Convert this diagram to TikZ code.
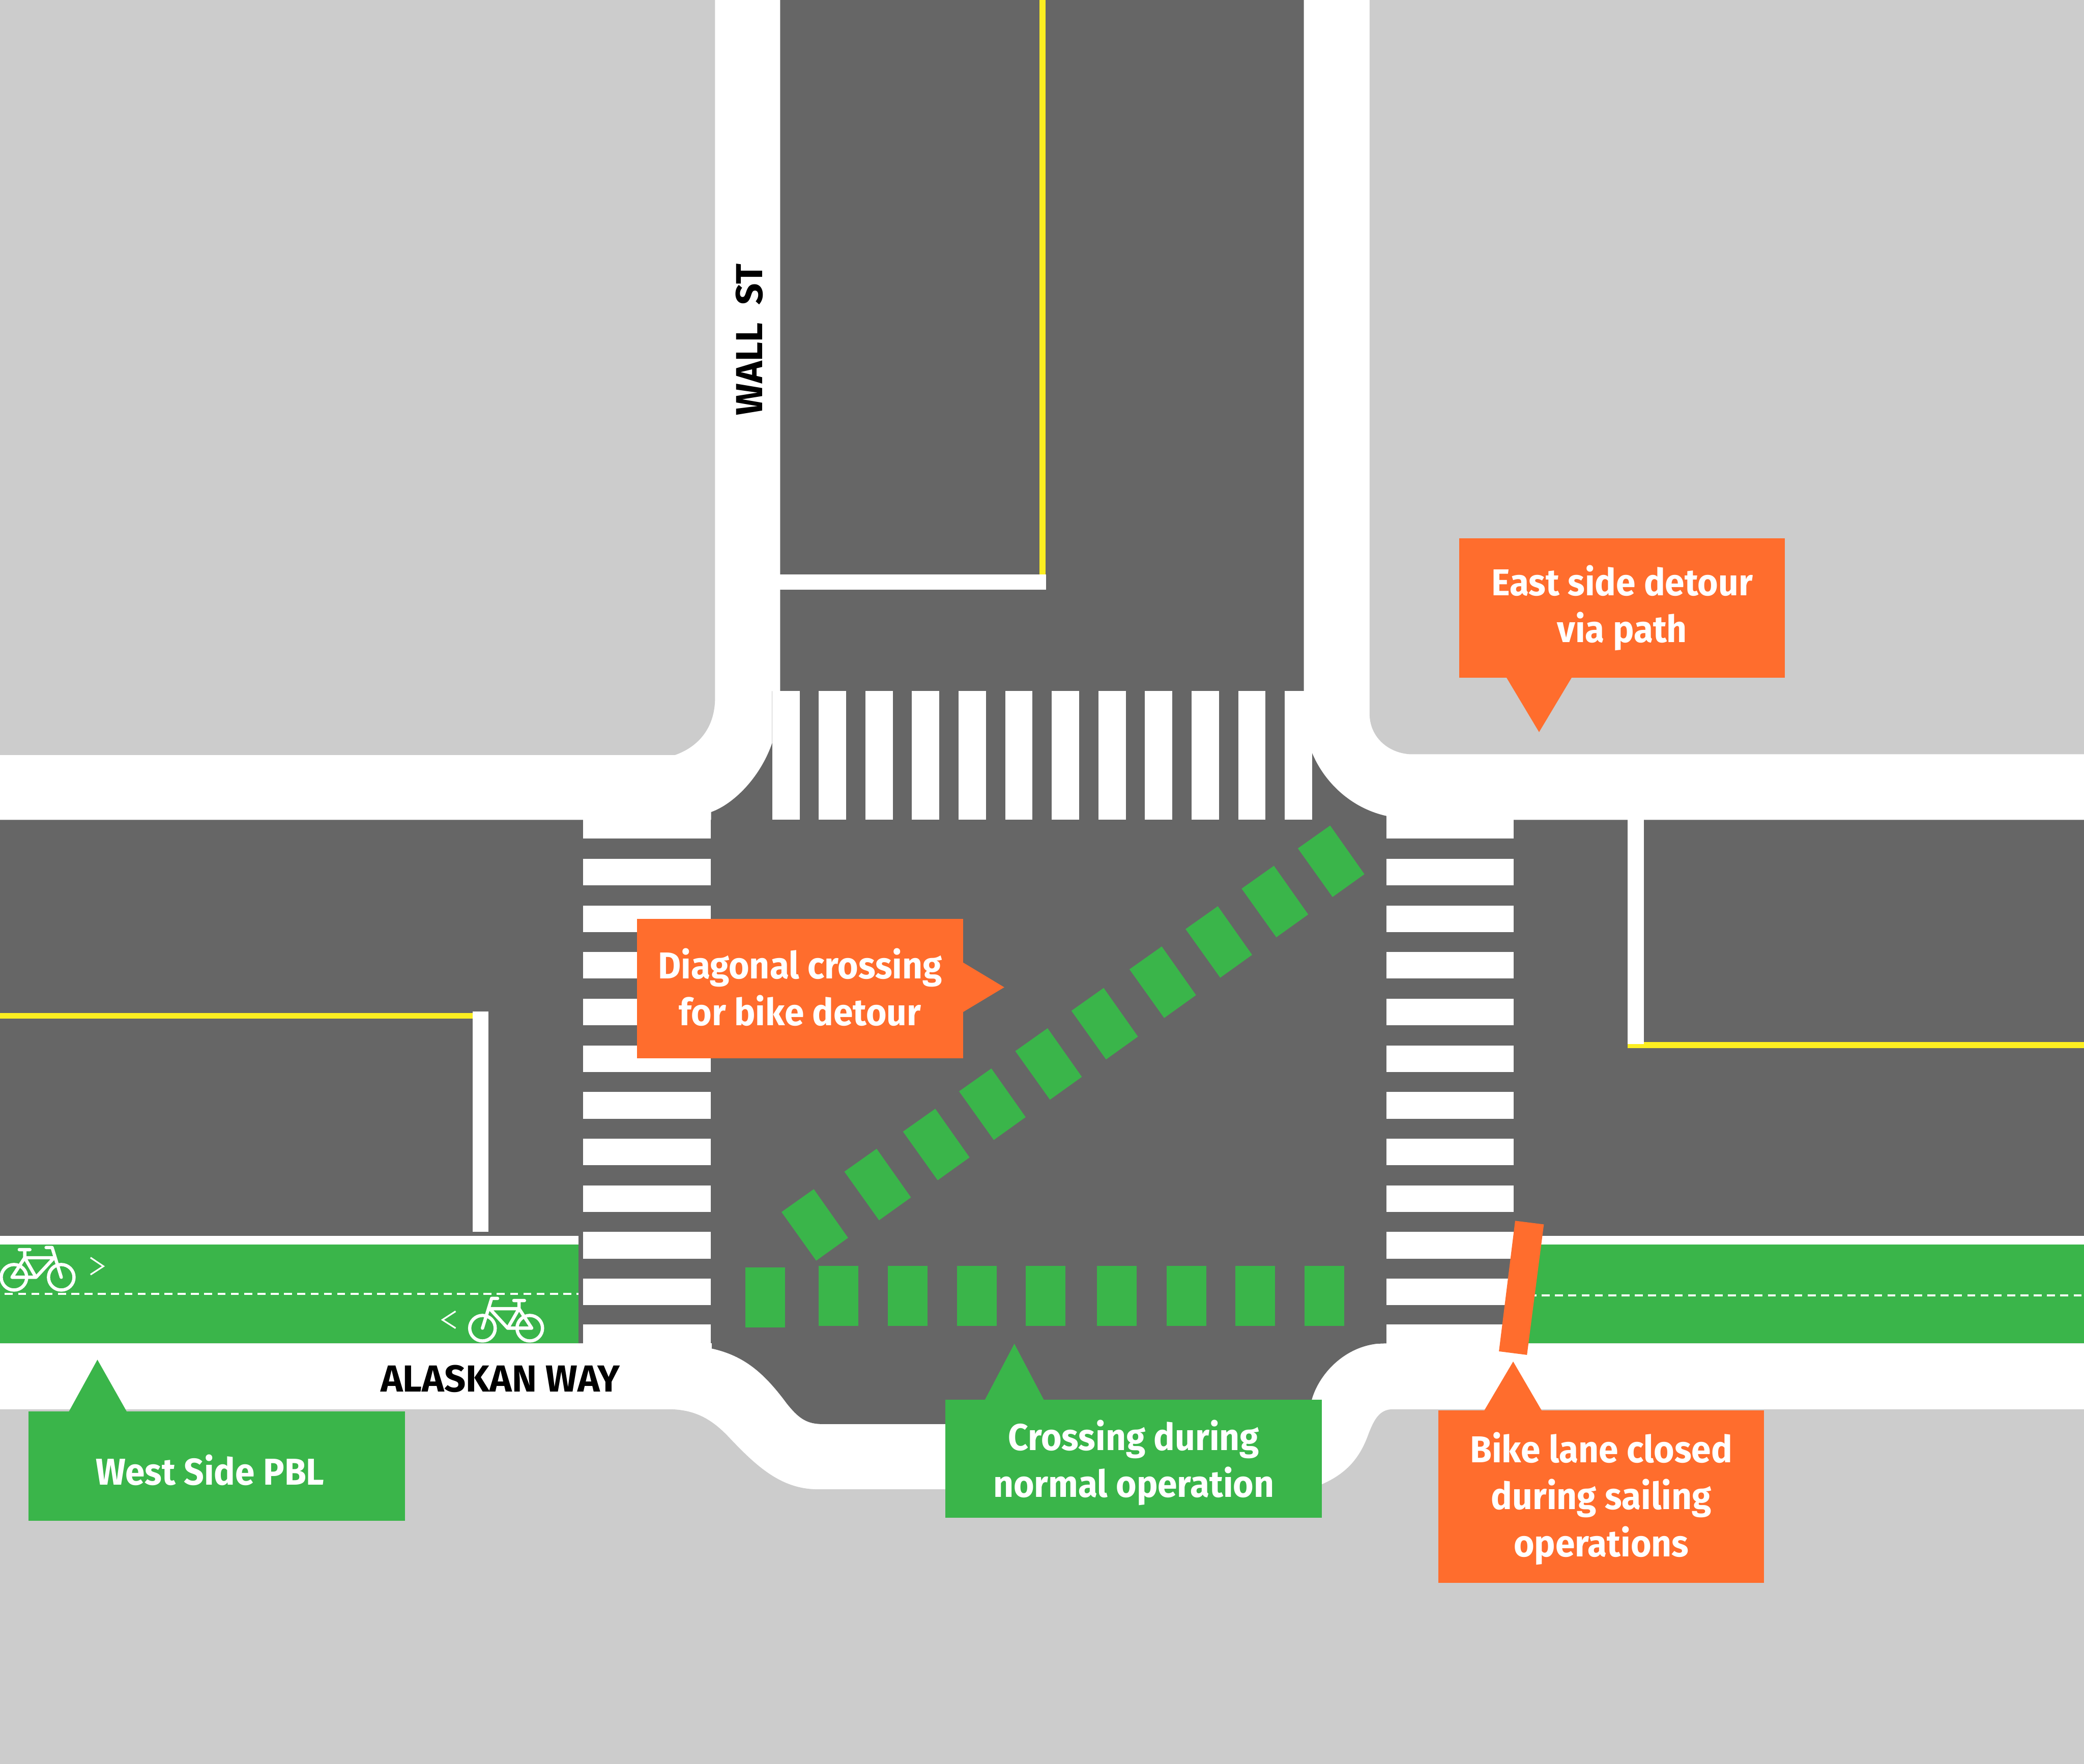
\documentclass[tikz,border=0pt]{standalone}
\usepackage{xcolor}
\usepackage{fontspec}
\setmainfont{Fira Sans}
\newfontfamily\calloutfont[FakeStretch = 0.945]{Fira Sans}
\newcommand{\lowered}[2]{\raisebox{-#1}[\height][\depth]{#2}}
\usepackage{tikz}
\usetikzlibrary{positioning}
\definecolor{sidewalk}{HTML}{CCCCCC}
\definecolor{asphalt}{HTML}{666666}
\definecolor{lanegreen}{HTML}{3AB54A}
\definecolor{detourorange}{HTML}{FF6D2D}
\definecolor{centerline}{HTML}{FCEE21}
\tikzset{
callout/.style = { rectangle, fill = #1, text = white, font = \fontsize{8pt}{10.06pt}\calloutfont\bfseries, align = center, inner sep = 0pt },
street name/.style = { black, font = \fontsize{8.05pt}{10pt}\selectfont\bfseries, inner sep = 0pt },
stop bar/.style = { fill = white },
lane dash/.style = { draw = white, line width = 0.35pt, dash pattern = on 0.06cm off 0.04cm },
}
\tikzset{
pics/bike/.style = {
        code = {
        \draw[white, line width = 0.7pt, line cap = round, line join = round]
            (0, 0) circle [radius = 9.6]
            (35.6, 0) circle [radius = 9.6]
            (-1.5, 0) -- (16.6, 0) -- (30.2, -14.7) -- (8.1, -14.7) -- cycle
            (8.1, -14.7) -- (16.6, 0)
            (8.1, -14.7) -- (8.1, -20.5)
            (4, -20.8) -- (12, -20.8)
            (35.6, 0) -- (28.7, -22.4) -- (24.2, -22.4);
        }
    }
}
\begin{document}
\begin{tikzpicture}[x = 0.01cm, y = -0.01cm]
    \useasboundingbox (0, 0) rectangle (1568, 1327.2);
    % ground
    \fill[white] (0, 0) rectangle (1568, 1327.2);
    \fill[sidewalk] (0, 0) -- (538, 0) -- (538, 525) .. controls (538, 548) and (525, 562) .. (508, 568) -- (0, 568) -- cycle;
    \fill[sidewalk] (1030.5, 0) -- (1030.5, 538) .. controls (1031, 555) and (1045, 567) .. (1062, 567.5) -- (1568, 567.5) -- (1568, 0) -- cycle;
    \fill[sidewalk] (0, 1060.3) -- (502, 1060.3) .. controls (525, 1060) and (538, 1070) .. (550, 1083) .. controls (570, 1104) and (588, 1120) .. (614, 1120.5)
        -- (960, 1120.5) .. controls (975, 1120.5) and (985, 1120) .. (994, 1117) .. controls (1015, 1108) and (1024, 1095) .. (1030, 1078) .. controls (1034, 1068) and (1038, 1060.3) .. (1048, 1060.3)
        -- (1568, 1060.3) -- (1568, 1327.2) -- (0, 1327.2) -- cycle;
    % roadway
    \fill[asphalt] (587, 0) -- (981, 0) -- (981, 520) -- (987, 520) -- (987, 566) .. controls (996, 588) and (1016, 608) .. (1043.5, 614) -- (1043.5, 616.8) -- (1568, 616.8)
        -- (1568, 1010.7) -- (1043.5, 1010.7) -- (1036, 1011) .. controls (1010, 1014) and (992, 1035) .. (987, 1053) -- (987, 1071.4)
        -- (617, 1071.4) .. controls (606, 1071) and (600, 1066) .. (592, 1056) .. controls (575, 1033) and (560, 1020) .. (535.5, 1014.6) -- (535.5, 1010.7)
        -- (0, 1010.7) -- (0, 616.8) -- (535, 616.8) -- (535, 611) .. controls (552, 605) and (572, 585) .. (581, 559) -- (581, 520) -- (587, 520) -- cycle;
    % crosswalks
    \foreach \i in {0, ..., 11} {
        \fill[white] ({581 + 35.06 * \i}, 520) rectangle ({601.6 + 35.06 * \i}, 616.6);
    }
    \foreach \i in {0, ..., 11} {
        \fill[white] (438.7, {611 + 35.1 * \i}) rectangle (534.8, {631 + 35.1 * \i});
        \fill[white] (1043, {611 + 35.1 * \i}) rectangle (1139, {631 + 35.1 * \i});
    }
    \fill[white] (438.7, 996.6) rectangle (534.8, 1010.7);
    \fill[white] (1043, 996.6) rectangle (1139, 1010.7);
    \fill[white] (439, 1010.7) rectangle (535.5, 1014);
    \fill[white] (1043.5, 1010.7) rectangle (1139, 1014);
    % stop bars and centre lines
    \fill[centerline] (782, 0) rectangle (786.7, 432);
    \fill[stop bar] (587, 432) rectangle (787, 443.5);
    \fill[centerline] (0, 762) rectangle (356, 766.5);
    \fill[stop bar] (355.5, 761) rectangle (367.5, 926.7);
    \fill[centerline] (1224.7, 784) rectangle (1568, 788.7);
    \fill[stop bar] (1224.7, 616.8) rectangle (1237, 785.5);
    % bike lanes
    \fill[white] (0, 930) rectangle (435.4, 936.4);
    \fill[lanegreen] (0, 936.4) rectangle (435.4, 1010.7);
    \draw[lane dash] (3.6, 973.5) -- (435.4, 973.5);
    \fill[white] (1150, 930) rectangle (1568, 936.4);
    \fill[lanegreen] (1145, 936.4) rectangle (1568, 1010.7);
    \draw[lane dash] (1150, 974.6) -- (1568, 974.6);
    \draw (10.5, 961) pic{bike};
    \draw (398.6, 999.3) pic[xscale = -1]{bike};
    \draw[white, line width = 0.35pt] (68.1, 946.2) -- (77.8, 952.7) -- (68.1, 959);
    \draw[white, line width = 0.35pt] (342.8, 986.6) -- (332.9, 993) -- (342.8, 999.3);
    % green crossing, straight part
    \fill[lanegreen] (560.8, 953.6) rectangle (590.5, 998.8);
    \foreach \xpos in {616, 668, 720, 771.8, 825.5, 877.7, 929.6, 981.5} {
        \fill[lanegreen] (\xpos, 952.3) rectangle ({\xpos + 29.8}, 997.5);
    }
    % green crossing, diagonal part
    \foreach \xpos/\ypos in {588/911.9, 635.3/881.5, 679.4/851.4, 721.6/821.1, 763.9/790.8, 806.1/760.5, 849.8/729.3, 892/699, 934.2/668.6, 976.5/638.3} {
        \fill[lanegreen] (\xpos, \ypos) -- ({\xpos + 24.3}, {\ypos - 17.2}) -- ({\xpos + 50.1}, {\ypos + 19.4}) -- ({\xpos + 26.1}, {\ypos + 36.6}) -- cycle;
    }
    % closed lane
    \fill[detourorange] (1140, 918.5) -- (1161.6, 921.2) -- (1148.9, 1019.4) -- (1127.8, 1016.7) -- cycle;
    % street names
    \node[street name] (alaskan) at (376.5, 1037.5) {ALASKAN WAY};
    \node[street name, rotate = 90] (wall) at (564, 255.5) {WALL\ \ ST};
    % callouts
    \fill[detourorange] (1133, 509) -- (1158, 550.8) -- (1183, 509) -- cycle;
    \node[callout = detourorange, minimum width = 2.45cm, minimum height = 1.05cm] (east) at (1220.5, 457.5) {East side detour\\via path};
    \fill[detourorange] (724, 723.8) -- (755.6, 742.8) -- (724, 761.8) -- cycle;
    \node[callout = detourorange, minimum width = 2.45cm, minimum height = 1.05cm] (diagonal) at (602, 743.7) {\lowered{-0.01cm}{Diagonal crossing}\\\lowered{-0.01cm}{for bike detour}};
    \fill[lanegreen] (51.3, 1063) -- (73.3, 1023) -- (95.9, 1063) -- cycle;
    \node[callout = lanegreen, minimum width = 2.83cm, minimum height = 0.82cm] (west) at (163.1, 1103) {\lowered{0.03cm}{West Side PBL}\hspace*{0.1cm}};
    \fill[lanegreen] (740.6, 1054) -- (763.2, 1011) -- (785.8, 1054) -- cycle;
    \node[callout = lanegreen, minimum width = 2.83cm, minimum height = 0.89cm] (crossing) at (853, 1097.5) {\lowered{0.03cm}{Crossing during}\\\lowered{0.03cm}{normal operation}};
    \fill[detourorange] (1116.3, 1062) -- (1138.5, 1024.4) -- (1160.4, 1062) -- cycle;
    \node[callout = detourorange, minimum width = 2.45cm, minimum height = 1.30cm] (closed) at (1204.8, 1126) {\lowered{0.015cm}{Bike lane closed}\\\lowered{0.015cm}{during sailing}\\\lowered{0.015cm}{operations}};
\end{tikzpicture}
\end{document}
